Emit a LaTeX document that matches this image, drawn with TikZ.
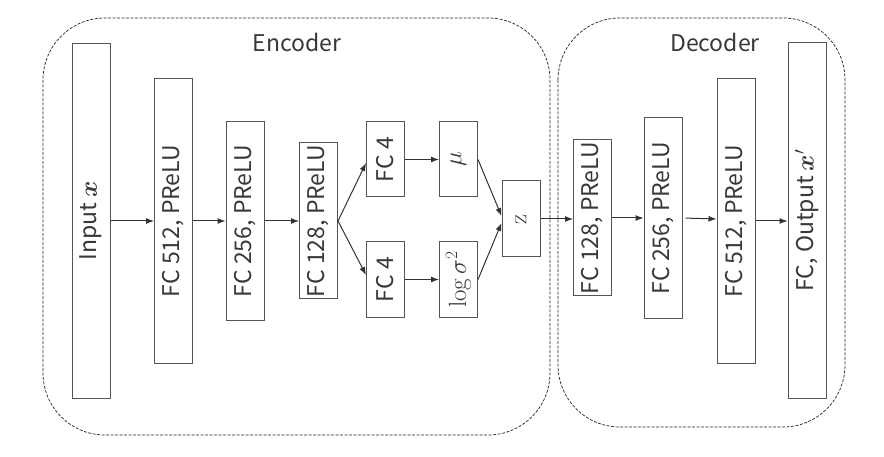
\documentclass[tikz,border=0pt]{standalone}
\usepackage[no-math]{fontspec}
\usepackage{amsmath,bm}
\setmainfont{Noto Sans CJK SC}
\usetikzlibrary{arrows.meta}
\definecolor{boxgray}{HTML}{555555}
\definecolor{txtgray}{HTML}{383838}
\definecolor{arrgray}{HTML}{333333}
\begin{document}
\begin{tikzpicture}[x=1pt,y=-1pt,
  layer/.style={draw=boxgray, line width=1pt, minimum width=38pt, inner sep=0pt,
    text=txtgray, font=\fontsize{23}{26}\selectfont},
  flow/.style={draw=arrgray, line width=1pt, -{Latex[length=8pt,width=6pt]}},
  group/.style={draw=black!85, line width=0.7pt, dash pattern=on 3pt off 1.5pt,
    rounded corners=62pt},
  title/.style={text=txtgray, font=\fontsize{23}{26}\selectfont}]

% canvas
\path[use as bounding box, fill=white] (0,0) rectangle (884,457);

% encoder / decoder groups
\draw[group] (43,18) rectangle (550,435);
\draw[group] (558,18) rectangle (845,427);
\node[title] (enc) at (297,42) {Encoder};
\node[title] (dec) at (715,42) {Decoder};

% encoder layers
\node[layer, minimum height=355pt] (in)   at (91,221)    {\rotatebox{90}{Input $\bm{x}$}};
\node[layer, minimum height=284pt] (e512) at (173.5,221) {\rotatebox{90}{FC 512, PReLU}};
\node[layer, minimum height=198pt] (e256) at (245,221)   {\rotatebox{90}{FC 256, PReLU}};
\node[layer, minimum height=156pt] (e128) at (318.5,221) {\rotatebox{90}{FC 128, PReLU}};
\node[layer, minimum height=75pt]  (fca)  at (385.5,159.5) {\rotatebox{90}{FC 4}};
\node[layer, minimum height=75pt]  (fcb)  at (385.5,279.5) {\rotatebox{90}{FC 4}};
\node[layer, minimum height=75pt]  (mu)   at (458.5,159.5) {\rotatebox{90}{$\mu$}};
\node[layer, minimum height=75pt]  (lv)   at (458.5,279.5) {\rotatebox{90}{$\log\sigma^2$}};
\node[layer, minimum height=76pt]  (z)    at (521,219)   {\rotatebox{90}{$\mathrm{z}$}};

% decoder layers
\node[layer, minimum height=156pt] (d128) at (592.5,218) {\rotatebox{90}{FC 128, PReLU}};
\node[layer, minimum height=200pt] (d256) at (663,218)   {\rotatebox{90}{FC 256, PReLU}};
\node[layer, minimum height=284pt] (d512) at (736,221)   {\rotatebox{90}{FC 512, PReLU}};
\node[layer, minimum height=355pt] (out)  at (807,220.5) {\rotatebox{90}{FC, Output $\bm{x}'$}};

% connections
\draw[flow] (in.east)   -- (in.east -| e512.west);
\draw[flow] (e512.east) -- (e512.east -| e256.west);
\draw[flow] (e256.east) -- (e256.east -| e128.west);
\draw[flow] (e128.east) -- ([yshift=-3.5pt]fca.west);
\draw[flow] (e128.east) -- ([yshift=4.5pt]fcb.west);
\draw[flow] (fca.east)  -- (fca.east -| mu.west);
\draw[flow] (fcb.east)  -- (fcb.east -| lv.west);
\draw[flow] (mu.east)   -- ([yshift=3pt]z.west);
\draw[flow] (lv.east)   -- ([yshift=-4pt]z.west);
\draw[flow] (z.east)    -- (z.east -| d128.west);
\draw[flow] (d128.east) -- (d128.east -| d256.west);
\draw[flow, shorten <=3pt] (d256.east) -- ([yshift=-1pt]d256.east -| d512.west);
\draw[flow] (d512.east) -- (d512.east -| out.west);
\end{tikzpicture}
\end{document}
